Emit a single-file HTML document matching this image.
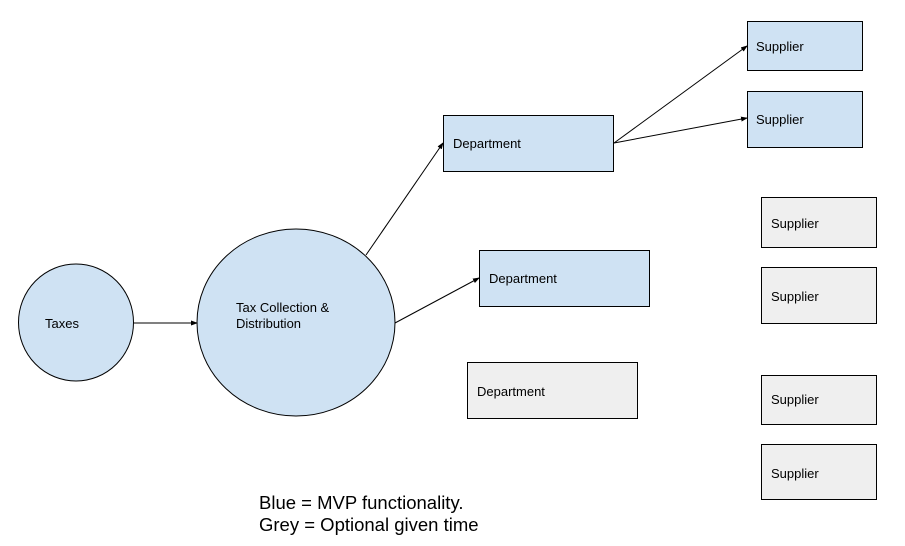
<!DOCTYPE html>
<html><head><style>html,body{margin:0;padding:0;background:#fff}svg{display:block}</style></head>
<body>
<svg width="905" height="546" xmlns="http://www.w3.org/2000/svg" font-family="Liberation Sans, Arial, sans-serif">
<defs><marker id="a" markerWidth="7" markerHeight="5" refX="6" refY="2.5" orient="auto" markerUnits="userSpaceOnUse"><path d="M0,0 L7,2.5 L0,5 z" fill="#000"/></marker></defs>
<g stroke="#000" stroke-width="1">
<ellipse cx="76" cy="322.5" rx="57.5" ry="58.5" fill="#cfe2f3"/>
<ellipse cx="296" cy="322.5" rx="99" ry="93.5" fill="#cfe2f3"/>
<rect x="443.5" y="115.5" width="170" height="56" fill="#cfe2f3"/>
<rect x="479.5" y="250.5" width="170" height="56" fill="#cfe2f3"/>
<rect x="467.5" y="362.5" width="170" height="56" fill="#efefef"/>
<rect x="747.5" y="21.5" width="115" height="49" fill="#cfe2f3"/>
<rect x="747.5" y="91.5" width="115" height="56" fill="#cfe2f3"/>
<rect x="761.5" y="197.5" width="115" height="50" fill="#efefef"/>
<rect x="761.5" y="267.5" width="115" height="56" fill="#efefef"/>
<rect x="761.5" y="375.5" width="115" height="49" fill="#efefef"/>
<rect x="761.5" y="444.5" width="115" height="55" fill="#efefef"/>
<line x1="134" y1="323" x2="197" y2="323" marker-end="url(#a)"/>
<line x1="366" y1="255" x2="443" y2="143" marker-end="url(#a)"/>
<line x1="395" y1="323" x2="479" y2="278" marker-end="url(#a)"/>
<line x1="614" y1="143" x2="747" y2="46" marker-end="url(#a)"/>
<line x1="614" y1="143" x2="747" y2="118" marker-end="url(#a)"/>
</g>
<g font-size="13" fill="#000">
<text x="45" y="328">Taxes</text>
<text x="236" y="312">Tax Collection &amp;</text>
<text x="236" y="328">Distribution</text>
<text x="453" y="148">Department</text>
<text x="489" y="283">Department</text>
<text x="477" y="396">Department</text>
<text x="756" y="51">Supplier</text>
<text x="756" y="124">Supplier</text>
<text x="771" y="228">Supplier</text>
<text x="771" y="301">Supplier</text>
<text x="771" y="404">Supplier</text>
<text x="771" y="478">Supplier</text>
</g>
<g font-size="18.5" fill="#000">
<text x="259" y="509">Blue = MVP functionality.</text>
<text x="259" y="531">Grey = Optional given time</text>
</g>
</svg>
</body></html>
